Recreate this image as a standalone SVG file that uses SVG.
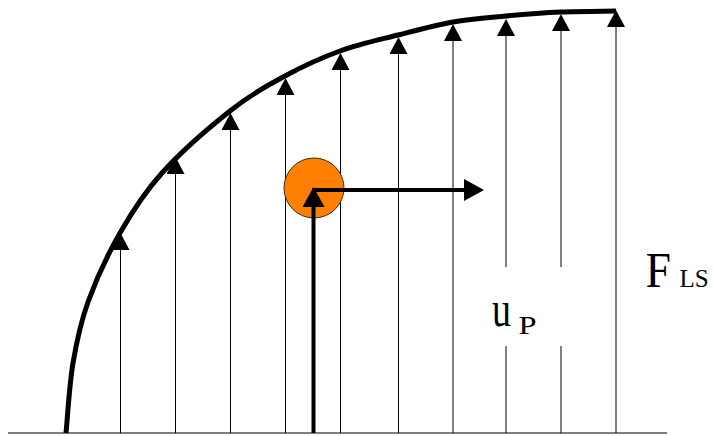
<svg xmlns="http://www.w3.org/2000/svg" width="714" height="436" viewBox="0 0 714 436">
<style>
.thin{stroke:#000;stroke-width:1;fill:none}
.thick{stroke:#000;stroke-width:4;fill:none}
.lbl{font-family:"Liberation Serif","Times New Roman",serif;fill:#000}
</style>
<defs>
<marker id="ah" markerUnits="userSpaceOnUse" markerWidth="18" markerHeight="18" refX="9" refY="9" orient="auto">
<path d="M0,0 L17,9 L0,18 z" fill="#000"/>
</marker>
<marker id="ahb" markerUnits="userSpaceOnUse" markerWidth="21" markerHeight="22" refX="10" refY="11" orient="auto">
<path d="M0,0 L20,11 L0,22 z" fill="#000"/>
</marker>
</defs>
<rect width="714" height="436" fill="#fff"/>
<g id="axis">
<line class="thin" x1="8" y1="433" x2="667" y2="433"/>
</g>
<g id="connectors">
<line class="thin" x1="120.5" y1="433" x2="120.5" y2="241" marker-end="url(#ah)"/>
<line class="thin" x1="175.5" y1="433" x2="175.5" y2="165" marker-end="url(#ah)"/>
<line class="thin" x1="230.5" y1="433" x2="230.5" y2="121" marker-end="url(#ah)"/>
<line class="thin" x1="285.5" y1="433" x2="285.5" y2="86" marker-end="url(#ah)"/>
<line class="thin" x1="340.5" y1="433" x2="340.5" y2="61" marker-end="url(#ah)"/>
<line class="thin" x1="398.5" y1="433" x2="398.5" y2="45" marker-end="url(#ah)"/>
<line class="thin" x1="453" y1="433" x2="453" y2="32" marker-end="url(#ah)"/>
<line class="thin" x1="506" y1="433" x2="506" y2="346"/>
<line class="thin" x1="506" y1="267" x2="506" y2="27" marker-end="url(#ah)"/>
<line class="thin" x1="561" y1="433" x2="561" y2="346"/>
<line class="thin" x1="561" y1="267" x2="561" y2="22" marker-end="url(#ah)"/>
<line class="thin" x1="616" y1="433" x2="616" y2="18" marker-end="url(#ah)"/>
</g>
<g id="profile">
<path d="M66,433 C67.2,421.3 69.3,384.8 73,363 C76.7,341.2 80.2,323.7 88,302 C95.8,280.3 107.7,254.5 120,233 C132.3,211.5 143.7,193.3 162,173 C180.3,152.7 209.5,127.2 230,111 C250.5,94.8 266.7,86 285,76 C303.3,66 321.2,57.8 340,51 C358.8,44.2 379.2,39.8 398,35 C416.8,30.2 435,25.2 453,22 C471,18.8 488,17.7 506,16 C524,14.3 542.7,12.8 561,12 C579.3,11.2 606.8,11.2 616,11" fill="none" stroke="#000" stroke-width="5"/>
</g>
<g id="particle">
<circle cx="314" cy="188" r="30" fill="#FF8000" stroke="#3a2a10" stroke-width="1"/>
<line class="thick" x1="313.5" y1="433" x2="313.5" y2="197" marker-end="url(#ahb)"/>
<line class="thick" x1="312" y1="190" x2="474" y2="190" marker-end="url(#ahb)"/>
</g>
<g id="label-up">
<text class="lbl" x="492" y="326" font-size="50" textLength="19" lengthAdjust="spacingAndGlyphs">u</text>
<text class="lbl" x="518.5" y="334" font-size="25" textLength="18" lengthAdjust="spacingAndGlyphs">P</text>
</g>
<g id="label-fls">
<text class="lbl" x="645.5" y="287" font-size="50" textLength="25.5" lengthAdjust="spacingAndGlyphs">F</text>
<text class="lbl" x="679.5" y="287" font-size="25">LS</text>
</g>
</svg>
